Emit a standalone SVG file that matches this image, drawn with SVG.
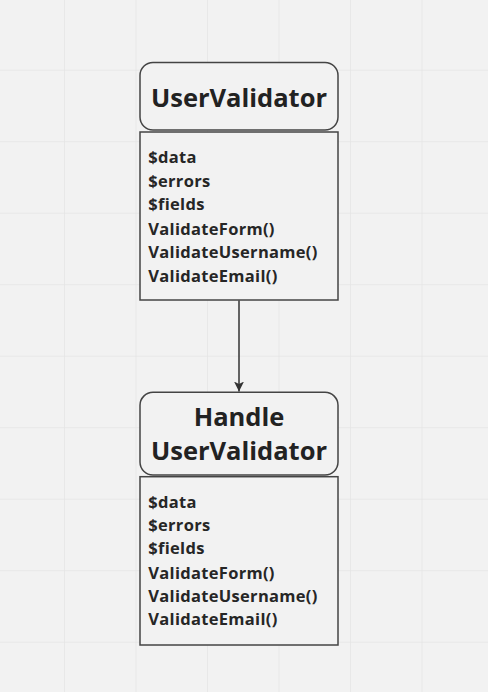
<svg xmlns="http://www.w3.org/2000/svg" width="488" height="692" viewBox="0 0 488 692">
<defs>
<pattern id="grid" x="-6.5" y="-0.8" width="71.5" height="71.5" patternUnits="userSpaceOnUse">
<path d="M71.5 0V71.5M0 71.5H71.5" fill="none" stroke="#e5e5e5" stroke-width="1.5"/>
</pattern>
<marker id="arr" viewBox="0 0 10 10" refX="10" refY="5" markerWidth="10" markerHeight="10" markerUnits="userSpaceOnUse" orient="auto">
<path d="M0 0L10 5L0 10L2.5 5Z" fill="#333"/>
</marker>
<style>
.hdr{fill:#f2f2f2;stroke:#444;stroke-width:1.5}
.body{fill:#f2f2f2;stroke:#444;stroke-width:1.5}
.title{font-family:"Open Sans","Noto Sans",sans-serif;font-weight:bold;font-size:25.5px;fill:#222;text-anchor:middle}
.attr{font-family:"Open Sans","Noto Sans",sans-serif;font-weight:bold;font-size:16.5px;letter-spacing:0.3px;fill:#262626}
.conn{stroke:#333;stroke-width:1.5;fill:none}
</style>
</defs>
<rect width="488" height="692" fill="#f2f2f2"/>
<rect width="488" height="692" fill="url(#grid)"/>
<g id="node-uservalidator">
<rect class="hdr" x="140" y="62.5" width="198" height="67.5" rx="13"/>
<text class="title" x="239" y="106.7">UserValidator</text>
<rect class="body" x="140" y="132" width="198" height="168"/>
<text class="attr" x="148.3" y="163.3">$data</text>
<text class="attr" x="148.3" y="186.7">$errors</text>
<text class="attr" x="148.3" y="210">$fields</text>
<text class="attr" x="148.3" y="235">ValidateForm()</text>
<text class="attr" x="148.3" y="258.3">ValidateUsername()</text>
<text class="attr" x="148.3" y="281.7">ValidateEmail()</text>
</g>
<g id="node-handle-uservalidator">
<rect class="hdr" x="140" y="392.3" width="198" height="82.7" rx="13"/>
<text class="title" x="239" y="426">Handle</text>
<text class="title" x="239" y="460">UserValidator</text>
<rect class="body" x="140" y="476.7" width="198" height="168.3"/>
<text class="attr" x="148.3" y="507.7">$data</text>
<text class="attr" x="148.3" y="531">$errors</text>
<text class="attr" x="148.3" y="554.3">$fields</text>
<text class="attr" x="148.3" y="579">ValidateForm()</text>
<text class="attr" x="148.3" y="601.7">ValidateUsername()</text>
<text class="attr" x="148.3" y="625">ValidateEmail()</text>
</g>
<g id="connectors">
<line class="conn" x1="239" y1="300.5" x2="239" y2="391.5" marker-end="url(#arr)"/>
</g>
</svg>
